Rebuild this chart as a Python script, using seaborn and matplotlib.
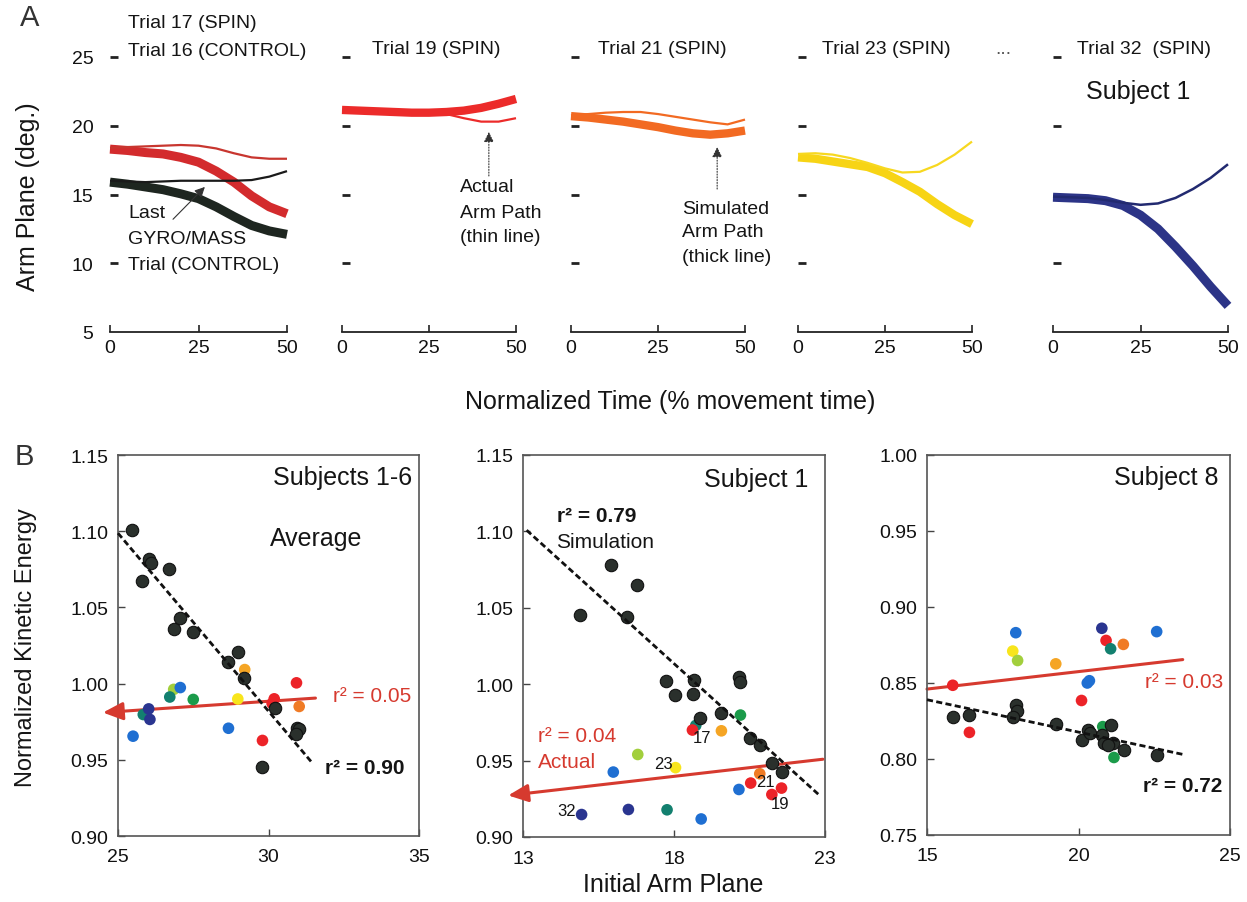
import numpy as np
import pandas as pd
import matplotlib
matplotlib.use("Agg")
import matplotlib.pyplot as plt
import seaborn as sns

# ---------------- data ----------------
time_pct = [0, 5, 10, 15, 20, 25, 30, 35, 40, 45, 50]

trial17_sim = [18.3, 18.2, 18.05, 17.95, 17.7, 17.35, 16.7, 15.9, 14.9, 14.1, 13.6]
trial17_act = [18.4, 18.45, 18.5, 18.55, 18.6, 18.55, 18.35, 18.0, 17.7, 17.6, 17.6]
trial16_sim = [15.9, 15.75, 15.55, 15.35, 15.05, 14.7, 14.1, 13.4, 12.75, 12.35, 12.1]
trial16_act = [16.0, 15.95, 15.9, 15.95, 16.0, 16.0, 16.0, 16.0, 16.05, 16.3, 16.7]
trial19_sim = [21.15, 21.1, 21.05, 21.0, 20.95, 20.95, 21.0, 21.1, 21.3, 21.6, 21.95]
trial19_act = [21.15, 21.1, 21.05, 21.0, 20.95, 20.95, 20.85, 20.55, 20.3, 20.3, 20.55]
trial21_sim = [20.7, 20.6, 20.45, 20.3, 20.1, 19.9, 19.65, 19.45, 19.35, 19.45, 19.65]
trial21_act = [20.75, 20.85, 20.95, 21.0, 21.0, 20.85, 20.65, 20.45, 20.25, 20.1, 20.45]
trial23_sim = [17.7, 17.6, 17.4, 17.2, 17.0, 16.55, 15.9, 15.2, 14.3, 13.5, 12.85]
trial23_act = [17.95, 18.0, 17.9, 17.65, 17.3, 16.9, 16.6, 16.65, 17.15, 17.9, 18.85]
trial32_sim = [14.8, 14.75, 14.7, 14.55, 14.2, 13.5, 12.5, 11.2, 9.8, 8.3, 6.9]
trial32_act = [14.85, 14.8, 14.75, 14.6, 14.4, 14.25, 14.35, 14.75, 15.4, 16.2, 17.2]

time_ticks = [0, 25, 50]
arm_ticks = [5, 10, 15, 20, 25]

# Panel B scatter data (Initial arm plane, normalized KE, trial group)
avg_x = [25.46, 26.02, 26.10, 25.80, 26.71, 26.87, 27.07, 27.50, 28.64, 29.00, 29.18, 30.20, 30.96, 31.00, 30.93, 29.77,
         25.50, 25.84, 26.02, 26.06, 26.85, 26.72, 27.07, 27.50, 28.67, 28.98, 29.21, 29.80, 30.19, 30.12, 30.93, 31.02]
avg_y = [1.101, 1.082, 1.079, 1.067, 1.075, 1.036, 1.043, 1.034, 1.014, 1.021, 1.004, 0.984, 0.971, 0.970, 0.967, 0.9456,
         0.9655, 0.9797, 0.9834, 0.9765, 0.9962, 0.9912, 0.9974, 0.9896, 0.9707, 0.9899, 1.0092, 0.9627, 0.990, 0.987, 1.0005, 0.985]
avg_g = ["sim"] * 16 + ["blue", "teal", "navy", "navy", "lime", "teal", "blue", "green", "blue", "yellow",
                        "orange", "red", "red", "red", "red", "darkorange"]

s1_x = [14.88, 15.93, 16.78, 16.44, 17.73, 18.03, 18.67, 18.62, 18.86, 19.55, 20.15, 20.17, 20.52, 20.84, 21.23, 21.56,
        20.20, 18.72, 18.61, 19.57, 16.80, 18.05, 15.99, 20.84, 20.54, 20.15, 21.24, 21.56, 14.94, 16.49, 17.77, 18.90]
s1_y = [1.0456, 1.0778, 1.065, 1.044, 1.0024, 0.993, 1.003, 0.9934, 0.978, 0.9814, 1.0044, 1.0013, 0.9645, 0.9605, 0.9487, 0.9425,
        0.9798, 0.973, 0.970, 0.9695, 0.954, 0.9454, 0.9425, 0.9414, 0.9353, 0.9311, 0.9278, 0.932, 0.9147, 0.918, 0.9178, 0.9118]
s1_g = ["sim"] * 16 + ["green", "teal", "red", "orange", "lime", "yellow", "blue", "darkorange", "red", "blue",
                       "red", "red", "navy", "navy", "teal", "blue"]

s8_x = [15.85, 16.39, 17.94, 17.98, 17.85, 19.26, 20.10, 20.30, 20.38, 20.77, 20.85, 21.07, 21.15, 20.98, 21.51, 22.58,
        15.85, 16.40, 17.93, 17.83, 17.99, 19.25, 20.29, 20.36, 20.10, 20.77, 20.91, 21.06, 21.48, 22.58, 20.80, 21.17]
s8_y = [0.8279, 0.829, 0.8356, 0.8317, 0.8279, 0.8228, 0.8125, 0.8191, 0.8169, 0.8158, 0.8103, 0.8224, 0.8103, 0.8091, 0.8058, 0.8025,
        0.8485, 0.8175, 0.8831, 0.871, 0.8648, 0.8626, 0.850, 0.8515, 0.8385, 0.886, 0.878, 0.8725, 0.8754, 0.8838, 0.8213, 0.801]
s8_g = ["sim"] * 16 + ["red", "red", "blue", "yellow", "lime", "orange", "blue", "blue", "red", "navy",
                       "red", "teal", "darkorange", "blue", "green", "green"]

# regression lines (x endpoints, y endpoints)
avg_sim_fit_x, avg_sim_fit_y = [25.0, 31.43], [1.0987, 0.9485]
avg_act_fit_x, avg_act_fit_y = [24.50, 31.56], [0.981, 0.9905]
s1_sim_fit_x, s1_sim_fit_y = [13.12, 22.80], [1.1008, 0.9276]
s1_act_fit_x, s1_act_fit_y = [12.51, 22.93], [0.9272, 0.9509]
s8_sim_fit_x, s8_sim_fit_y = [15.0, 23.45], [0.839, 0.803]
s8_act_fit_x, s8_act_fit_y = [15.0, 23.44], [0.846, 0.8654]

trial_labels_s1 = ["17", "23", "21", "19", "32"]

palette = {
    "sim": "#2a302c", "blue": "#1f6fd2", "navy": "#2a3590", "teal": "#13806f",
    "green": "#1b9b4a", "lime": "#a2cf3c", "yellow": "#f8e51c", "orange": "#f5a524",
    "darkorange": "#f07b25", "red": "#ec2328",
}

# ---------------- figure ----------------
sns.set_theme(style="white")
plt.rcParams["font.family"] = ["Liberation Sans", "DejaVu Sans"]
plt.rcParams["axes.linewidth"] = 1.2

W, H = 1247, 903
fig = plt.figure(figsize=(W / 100, H / 100), dpi=100)


def rect(l, t, r, b):
    return [l / W, 1 - b / H, (r - l) / W, (b - t) / H]


def ftext(x, y, s, **kw):
    kw.setdefault("fontsize", 14)
    kw.setdefault("color", "#151515")
    fig.text(x / W, 1 - y / H, s, **kw)


# ---------- Panel A ----------
a_specs = [
    ((110, 58, 287, 333), [(trial17_sim, "#d32b2d", 6.5), (trial17_act, "#c8362f", 1.6),
                           (trial16_sim, "#1e2620", 6.5), (trial16_act, "#1a1a1a", 1.6)]),
    ((342, 58, 516, 333), [(trial19_sim, "#ec2b2a", 6.0), (trial19_act, "#ec2b2a", 1.6)]),
    ((571, 58, 745, 333), [(trial21_sim, "#f26a22", 6.0), (trial21_act, "#f26a22", 1.6)]),
    ((798, 58, 972, 333), [(trial23_sim, "#f7d415", 6.0), (trial23_act, "#f7d820", 1.6)]),
    ((1053, 58, 1228, 333), [(trial32_sim, "#2c3487", 6.5), (trial32_act, "#222a70", 1.8)]),
]

for i, (r, series) in enumerate(a_specs):
    ax = fig.add_axes(rect(*r))
    ax.set_facecolor("none")
    for vals, col, lw in series:
        sns.lineplot(x=time_pct, y=vals, ax=ax, color=col, linewidth=lw,
                     estimator=None, sort=False, clip_on=False, solid_capstyle="butt")
    ax.set_xlim(0, 50)
    ax.set_ylim(5, 25)
    for sp in ["top", "right", "left"]:
        ax.spines[sp].set_visible(False)
    ax.spines["bottom"].set_bounds(0, 50)
    ax.spines["bottom"].set_color("#222")
    ax.spines["bottom"].set_linewidth(1.3)
    ax.set_xticks(time_ticks)
    ax.set_xticklabels([str(t) for t in time_ticks])
    ax.tick_params(axis="x", direction="in", length=5, width=1.2, color="#222",
                   labelsize=14, pad=5, bottom=True, labelcolor="#111")
    ax.set_yticks(arm_ticks)
    ax.tick_params(axis="y", direction="in", length=6, width=2.0, color="#222",
                   labelsize=14, pad=12, left=True, labelcolor="#111")
    ax.get_yaxis().majorTicks[0].tick1line.set_visible(False)
    if i > 0:
        ax.set_yticklabels([])
    ax.set_xlabel("")
    ax.set_ylabel("")
    ax.grid(False)
    if i == 0:
        ax.annotate("", xy=(26.8, 15.55), xytext=(17.8, 13.2),
                    arrowprops=dict(arrowstyle="-|>,head_length=0.5,head_width=0.25",
                                    color="#333", lw=0.8, shrinkA=0, shrinkB=0))
    if i == 1:
        ax.annotate("", xy=(42.2, 19.55), xytext=(42.2, 16.35),
                    arrowprops=dict(arrowstyle="-|>,head_length=0.5,head_width=0.25",
                                    color="#333", lw=0.8, linestyle=(0, (1, 1.5)),
                                    shrinkA=0, shrinkB=0))
    if i == 2:
        ax.annotate("", xy=(42.0, 18.45), xytext=(42.0, 15.4),
                    arrowprops=dict(arrowstyle="-|>,head_length=0.5,head_width=0.25",
                                    color="#333", lw=0.8, linestyle=(0, (1, 1.5)),
                                    shrinkA=0, shrinkB=0))

ftext(30, 18, "A", fontsize=21, ha="center", va="center", color="#333")
ftext(128, 24, "Trial 17 (SPIN)", va="center")
ftext(128, 51, "Trial 16 (CONTROL)", va="center")
ftext(372, 50, "Trial 19 (SPIN)", va="center")
ftext(598, 49, "Trial 21 (SPIN)", va="center")
ftext(822, 49, "Trial 23 (SPIN)", va="center")
ftext(1003, 50, "...", va="center", ha="center", color="#555")
ftext(1077, 49, "Trial 32  (SPIN)", va="center")
ftext(1138, 92, "Subject 1", va="center", ha="center", fontsize=18)
ftext(128, 214, "Last", va="center")
ftext(128, 240, "GYRO/MASS", va="center")
ftext(128, 265, "Trial (CONTROL)", va="center")
ftext(460, 188, "Actual", va="center")
ftext(460, 213, "Arm Path", va="center")
ftext(460, 237, "(thin line)", va="center")
ftext(682, 209, "Simulated", va="center")
ftext(682, 233, "Arm Path", va="center")
ftext(682, 257, "(thick line)", va="center")
ftext(28, 197, "Arm Plane (deg.)", rotation=90, ha="center", va="center", fontsize=18)
ftext(670, 402, "Normalized Time (% movement time)", ha="center", va="center", fontsize=18)

# ---------- Panel B ----------
b_specs = [
    ((118, 456, 419, 837), avg_x, avg_y, avg_g, (25, 35), [25, 30, 35], (0.90, 1.15),
     avg_sim_fit_x, avg_sim_fit_y, avg_act_fit_x, avg_act_fit_y, True),
    ((523, 456, 825, 838), s1_x, s1_y, s1_g, (13, 23), [13, 18, 23], (0.90, 1.15),
     s1_sim_fit_x, s1_sim_fit_y, s1_act_fit_x, s1_act_fit_y, True),
    ((927, 456, 1230, 836), s8_x, s8_y, s8_g, (15, 25), [15, 20, 25], (0.75, 1.00),
     s8_sim_fit_x, s8_sim_fit_y, s8_act_fit_x, s8_act_fit_y, False),
]

for (r, xs, ys, gs, xl, xt, yl, sfx, sfy, afx, afy, arrow) in b_specs:
    ax = fig.add_axes(rect(*r))
    df = pd.DataFrame({"x": xs, "y": ys, "g": gs})
    # actual (red) regression line
    if arrow:
        ax.annotate("", xy=(afx[0], afy[0]), xytext=(afx[1], afy[1]),
                    arrowprops=dict(arrowstyle="-|>,head_length=1.0,head_width=0.45",
                                    color="#d63a2f", lw=2.2, shrinkA=0, shrinkB=0),
                    annotation_clip=False)
    else:
        sns.lineplot(x=afx, y=afy, ax=ax, color="#d63a2f", linewidth=2.2,
                     estimator=None, sort=False, clip_on=False)
    sims = df[df.g == "sim"]
    cols = df[df.g != "sim"]
    sns.scatterplot(data=cols, x="x", y="y", hue="g", palette=palette, s=70,
                    edgecolor="none", legend=False, ax=ax, zorder=3)
    sns.scatterplot(data=sims, x="x", y="y", color=palette["sim"], s=80,
                    edgecolor="#111", linewidth=0.8, legend=False, ax=ax, zorder=4)
    sns.lineplot(x=sfx, y=sfy, ax=ax, color="#111", linewidth=2.0,
                 estimator=None, sort=False, clip_on=False, zorder=5,
                 linestyle=(0, (2.2, 1.2)))
    ax.set_xlim(*xl)
    ax.set_ylim(*yl)
    ax.set_xticks(xt)
    ax.set_xticklabels([str(v) for v in xt])
    yt = np.round(np.arange(yl[0], yl[1] + 0.001, 0.05), 2)
    ax.set_yticks(yt)
    ax.set_yticklabels([f"{v:.2f}" for v in yt])
    ax.tick_params(direction="in", length=5, width=1.0, color="#444", labelsize=14,
                   left=True, bottom=True, labelcolor="#111")
    ax.tick_params(axis="y", pad=7)
    ax.tick_params(axis="x", pad=9)
    for sp in ax.spines.values():
        sp.set_color("#555")
        sp.set_linewidth(1.2)
    ax.set_xlabel("")
    ax.set_ylabel("")
    ax.grid(False)

ftext(24, 457, "B", fontsize=21, ha="center", va="center", color="#333")
ftext(26, 648, "Normalized Kinetic Energy", rotation=90, ha="center", va="center", fontsize=17)
ftext(673, 885, "Initial Arm Plane", ha="center", va="center", fontsize=18)

ftext(412, 478, "Subjects 1-6", ha="right", va="center", fontsize=18)
ftext(270, 539, "Average", ha="left", va="center", fontsize=18)
ftext(333, 697, "r² = 0.05", ha="left", va="center", fontsize=15, color="#d63a2f")
ftext(325, 769, "r² = 0.90", ha="left", va="center", fontsize=15, fontweight="bold")

ftext(808, 480, "Subject 1", ha="right", va="center", fontsize=18)
ftext(557, 517, "r² = 0.79", ha="left", va="center", fontsize=15, fontweight="bold")
ftext(556, 543, "Simulation", ha="left", va="center", fontsize=15)
ftext(538, 737, "r² = 0.04", ha="left", va="center", fontsize=15, color="#d63a2f")
ftext(538, 763, "Actual", ha="left", va="center", fontsize=15, color="#d63a2f")
for lab, (px, py) in zip(trial_labels_s1, [(702, 739), (663, 765), (765, 783), (780, 805), (567, 812)]):
    ftext(px, py, lab, ha="center", va="center", fontsize=12)

ftext(1218, 478, "Subject 8", ha="right", va="center", fontsize=18)
ftext(1145, 683, "r² = 0.03", ha="left", va="center", fontsize=15, color="#d63a2f")
ftext(1143, 787, "r² = 0.72", ha="left", va="center", fontsize=15, fontweight="bold")

fig.savefig("out.png", dpi=100, facecolor="white")
